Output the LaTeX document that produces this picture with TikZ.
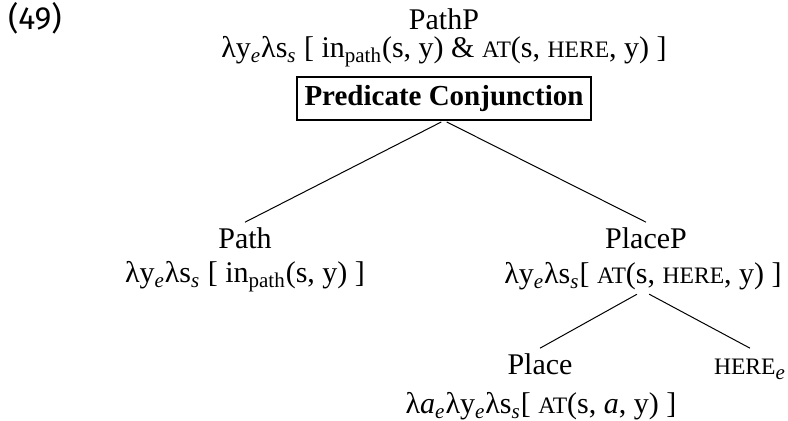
\documentclass[tikz,border=0pt]{standalone}
\usepackage{fontspec}
\setmainfont{Liberation Serif}
\newfontfamily\numfont{Fira Sans}
\newcommand\smc[1]{{\fontsize{11.8}{14}\selectfont #1}}
\newcommand\sub[1]{\textsubscript{#1}}
\begin{document}
\begin{tikzpicture}[x=0.5pt,y=-0.5pt,
  font=\fontsize{15}{18}\selectfont,
  lab/.style={anchor=base, inner sep=3pt, text height=10.2pt},
  form/.style={anchor=base, inner sep=0pt},
  edge/.style={line width=0.5pt}]
\useasboundingbox (0,0) rectangle (788,421);
\node[anchor=base, inner sep=0pt, font=\numfont\fontsize{16}{19}\selectfont] (ex) at (35,30) {(49)};
\node[lab] (pathp) at (444,30) {PathP};
\node[form] (pathpf) at (444,58) {λy\sub{\textit{e}}λs\sub{\textit{s}} [ in\sub{path}(s, y) \& \smc{AT}(s, \smc{HERE}, y) ]};
\node[draw, line width=0.6pt, minimum width=147pt, minimum height=21.5pt, inner sep=0pt,
  font=\bfseries\fontsize{14.5}{17}\selectfont] (pc) at (444,98.5) {Predicate Conjunction};
\node[lab] (path) at (245,249) {Path};
\node[form] (pathf) at (245,283) {λy\sub{\textit{e}}λs\sub{\textit{s}} [ in\sub{path}(s, y) ]};
\node[lab] (placep) at (646,249) {PlaceP};
\node[form] (placepf) at (643,284) {λy\sub{\textit{e}}λs\sub{\textit{s}}[ \smc{AT}(s, \smc{HERE}, y) ]};
\node[lab] (place) at (540,375) {Place};
\node[lab] (here) at (750,375) {\smc{HERE}\sub{\textit{e}}};
\node[form] (placef) at (541,414) {λ\textit{a}\sub{\textit{e}}λy\sub{\textit{e}}λs\sub{\textit{s}}[ \smc{AT}(s, \textit{a}, y) ]};
\draw[edge, shorten <=1.5pt] (pc.south) -- (path.north);
\draw[edge, shorten <=1.5pt] (pc.south) -- (placep.north);
\draw[edge, shorten <=3.5pt] (placepf.south) -- (place.north);
\draw[edge, shorten <=3.5pt] (placepf.south) -- (here.north);
\end{tikzpicture}
\end{document}
